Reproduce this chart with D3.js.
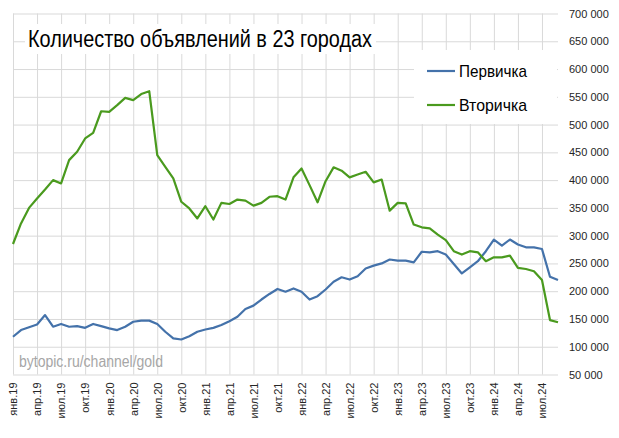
<!DOCTYPE html>
<html><head><meta charset="utf-8">
<script src="https://cdn.jsdelivr.net/npm/d3@7"></script>
<style>
html,body{margin:0;padding:0;background:#fff;}
svg{display:block;font-family:"Liberation Sans Narrow","Liberation Sans",Arial,sans-serif;}
</style></head>
<body>
<svg id="c" width="619" height="438"></svg>
<script>
const title = "Количество объявлений в 23 городах";
const watermark = "bytopic.ru/channel/gold";
const seriesNames = ["Первичка", "Вторичка"];
const tickLabels = ["янв.19","апр.19","июл.19","окт.19","янв.20","апр.20","июл.20","окт.20","янв.21","апр.21","июл.21","окт.21","янв.22","апр.22","июл.22","окт.22","янв.23","апр.23","июл.23","окт.23","янв.24","апр.24","июл.24"];
const yTicks = [50000,100000,150000,200000,250000,300000,350000,400000,450000,500000,550000,600000,650000,700000];
const perv = [118000,130000,135000,140000,157000,136000,141000,136000,137000,134000,141000,137000,133000,130000,136000,145000,147000,147000,141000,127000,115000,113000,119000,127000,131000,134000,139000,146000,154000,168000,174000,185000,195000,204000,199000,205000,199000,185000,191000,203000,217000,225000,221000,227000,241000,246000,250000,257000,255000,255000,252000,271000,270000,272000,266000,249000,232000,243000,254000,272000,293000,282000,293000,284000,279000,279000,276000,226000,220000];
const vtor = [285000,322000,350000,367000,383000,400000,394000,436000,451000,475000,485000,524000,523000,535000,548000,544000,555000,560000,445000,424000,403000,361000,349000,331000,353000,329000,359000,357000,365000,363000,354000,359000,370000,371000,365000,405000,421000,391000,360000,398000,423000,417000,405000,410000,415000,396000,401000,345000,359000,358000,320000,315000,313000,302000,292000,272000,266000,272000,270000,254000,261000,261000,264000,242000,240000,236000,220000,148000,144000];
const colors = ["#4472aa", "#4a9a1e"];

const svg = d3.select("#c");
const L = 13, R = 558, T = 13.5, B = 374.5;
const x = d3.scaleLinear().domain([0, perv.length - 1]).range([L, R]);
const y = d3.scaleLinear().domain([50000, 700000]).range([B, T]);
const tickIdx = tickLabels.map((d, i) => i * 3);

// vertical gridlines + month labels
const xa = svg.append("g").attr("transform", `translate(0,${B})`)
  .call(d3.axisBottom(x).tickValues(tickIdx).tickSize(-(B - T)).tickFormat((d, i) => tickLabels[i]));
xa.select(".domain").remove();
xa.selectAll(".tick line").attr("stroke", "#d9d9d9").attr("stroke-width", 1);
xa.selectAll(".tick text")
  .attr("transform", "translate(0,8) rotate(-90)")
  .attr("text-anchor", "end").attr("x", 0).attr("y", 0).attr("dy", "0.35em")
  .attr("fill", "#262626").style("font-size", "11px")
  .style("font-family", '"Liberation Sans",Arial,sans-serif');

// horizontal gridlines + value labels
const fmt = d => d3.format(",")(d).replace(/,/g, " ");
const ya = svg.append("g").attr("transform", `translate(${R},0)`)
  .call(d3.axisRight(y).tickValues(yTicks).tickSize(-(R - L)).tickPadding(11).tickFormat(fmt));
ya.select(".domain").remove();
ya.selectAll(".tick line").attr("stroke", "#d9d9d9").attr("stroke-width", 1);
ya.selectAll(".tick text").attr("fill", "#262626").style("font-size", "11px")
  .style("font-family", '"Liberation Sans",Arial,sans-serif');

// title box
svg.append("rect").attr("x", 25).attr("y", 24).attr("width", 351).attr("height", 30).attr("fill", "#fff");
svg.append("text").attr("x", 28).attr("y", 47).text(title)
  .attr("fill", "#000").style("font-size", "23px")
  .attr("textLength", 344).attr("lengthAdjust", "spacingAndGlyphs");

// watermark
svg.append("text").attr("x", 19).attr("y", 367).text(watermark)
  .attr("fill", "#a6a6a6").style("font-size", "16px")
  .attr("textLength", 144).attr("lengthAdjust", "spacingAndGlyphs");

// lines
const line = d3.line().x((d, i) => x(i)).y(d => y(d));
[perv, vtor].forEach((s, k) => {
  svg.append("path").datum(s).attr("d", line).attr("fill", "none")
    .attr("stroke", colors[k]).attr("stroke-width", 2.2).attr("stroke-linejoin", "round");
});

// legend
svg.append("rect").attr("x", 414).attr("y", 50).attr("width", 143).attr("height", 74).attr("fill", "#fff");
seriesNames.forEach((n, k) => {
  const cy = 71 + k * 34;
  svg.append("line").attr("x1", 427).attr("x2", 455).attr("y1", cy).attr("y2", cy)
    .attr("stroke", colors[k]).attr("stroke-width", 2.2);
  svg.append("text").attr("x", 459).attr("y", cy + 6).text(n)
    .attr("fill", "#000").style("font-size", "17px")
    .attr("textLength", 68).attr("lengthAdjust", "spacingAndGlyphs");
});
</script>
</body></html>
